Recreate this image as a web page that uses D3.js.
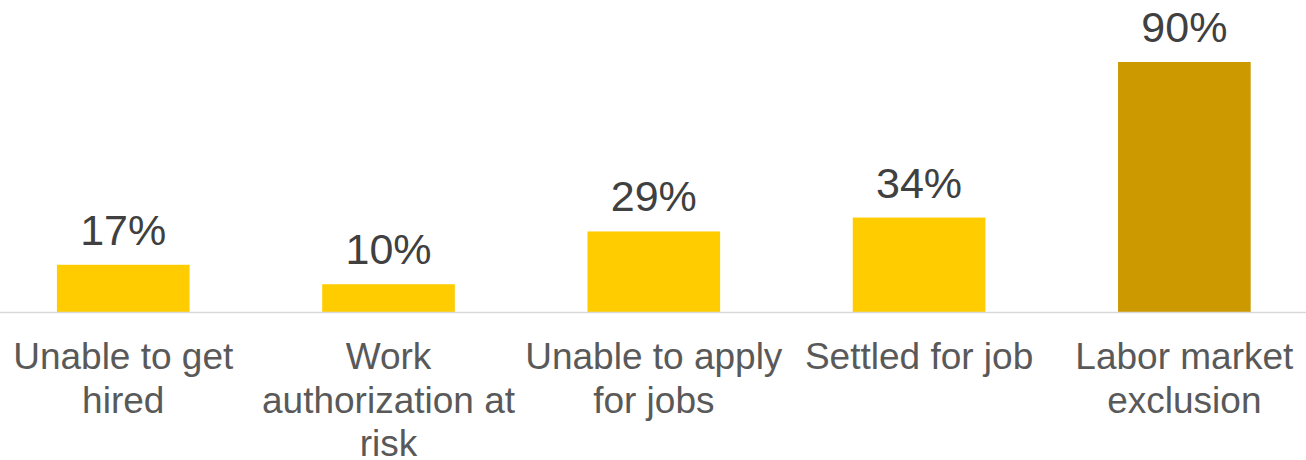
<!DOCTYPE html>
<html>
<head>
<meta charset="utf-8">
<script src="https://cdn.jsdelivr.net/npm/d3@7"></script>
<style>
  html, body { margin: 0; padding: 0; background: #fff; }
  svg { display: block; }
  text { font-family: "Liberation Sans", Arial, sans-serif; }
</style>
</head>
<body>
<div id="chart"></div>
<script>
// Data
const categories = ['Unable to get hired', 'Work authorization at risk', 'Unable to apply for jobs', 'Settled for job', 'Labor market exclusion'];
const values = [17, 10, 29, 34, 90];
const labelLines = [
  ['Unable to get', 'hired'],
  ['Work', 'authorization at', 'risk'],
  ['Unable to apply', 'for jobs'],
  ['Settled for job'],
  ['Labor market', 'exclusion']
];
const highlight = ['Labor market exclusion'];

const width = 1306, height = 460;
const baseY = 312;

const svg = d3.select('#chart')
  .append('svg')
  .attr('width', width)
  .attr('height', height);

const xScale = d3.scaleBand()
  .domain(categories)
  .range([-9.4, 1317])
  .paddingInner(0.5)
  .paddingOuter(0.25);

const yScale = d3.scaleLinear()
  .domain([0, 90])
  .range([baseY, 62]);

// Bars
svg.selectAll('rect.bar')
  .data(categories)
  .enter().append('rect')
  .attr('class', 'bar')
  .attr('x', d => xScale(d))
  .attr('width', xScale.bandwidth())
  .attr('y', (d, i) => yScale(values[i]))
  .attr('height', (d, i) => yScale(0) - yScale(values[i]))
  .attr('fill', d => highlight.includes(d) ? '#cc9900' : '#ffcc00');

// Baseline
svg.append('line')
  .attr('x1', 0)
  .attr('x2', width)
  .attr('y1', baseY + 0.5)
  .attr('y2', baseY + 0.5)
  .attr('stroke', '#d9d9d9')
  .attr('stroke-width', 1.5);

// Value labels
svg.selectAll('text.value')
  .data(categories)
  .enter().append('text')
  .attr('class', 'value')
  .attr('x', d => xScale(d) + xScale.bandwidth() / 2)
  .attr('y', (d, i) => yScale(values[i]) - 20)
  .attr('text-anchor', 'middle')
  .attr('font-size', 43)
  .attr('fill', '#404040')
  .text((d, i) => values[i] + '%');

// Category labels
const cat = svg.selectAll('text.cat')
  .data(categories)
  .enter().append('text')
  .attr('class', 'cat')
  .attr('text-anchor', 'middle')
  .attr('font-size', 37)
  .attr('fill', '#595959');
cat.each(function(d, i) {
  const t = d3.select(this);
  labelLines[i].forEach((line, k) => {
    t.append('tspan')
      .attr('x', xScale(d) + xScale.bandwidth() / 2)
      .attr('y', 369 + k * 43.5)
      .text(line);
  });
});
</script>
</body>
</html>
